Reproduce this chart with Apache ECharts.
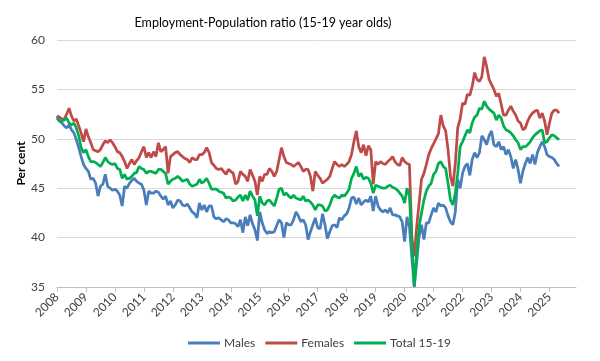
<!DOCTYPE html>
<html>
<head>
<meta charset="utf-8">
<script src="https://cdn.jsdelivr.net/npm/echarts@6/dist/echarts.min.js"></script>
<style>
html,body{margin:0;padding:0;background:#fff;}
#chart{width:600px;height:361px;}
</style>
</head>
<body>
<div id="chart"></div>
<script>
// Monthly categories Jan 2008 .. Dec 2025 (axis extent); data runs to May 2025
var startYear = 2008, endYear = 2025;
var months = [];
for (var y = startYear; y <= endYear; y++) {
  for (var m = 1; m <= 12; m++) {
    months.push(y + '-' + (m < 10 ? '0' + m : m));
  }
}

var males = [
52.3,51.8,51.6,51.3,51.1,51.4,50.9,50.6,49.9,49.1,48.2,47.4,
47.0,46.7,45.9,46.0,45.5,44.2,45.2,45.4,46.4,45.2,45.0,44.8,
44.9,44.7,44.3,43.2,45.2,45.0,45.5,45.8,46.0,45.7,45.5,45.4,
44.8,43.3,44.7,44.5,44.5,44.7,44.6,44.2,43.9,44.2,43.3,43.7,
43.0,43.3,43.8,43.7,43.3,43.2,43.4,43.0,42.6,42.4,42.0,43.5,
42.8,43.3,42.6,43.2,43.2,42.1,41.9,42.0,41.8,41.6,41.9,41.8,
41.5,41.5,41.4,41.1,41.8,40.5,42.1,41.2,42.3,41.4,40.8,39.7,
42.6,41.5,40.8,40.4,40.6,40.5,40.6,41.2,41.8,41.5,40.0,41.5,
41.3,41.3,41.8,42.6,42.2,41.6,41.8,41.3,39.8,40.6,41.3,42.0,
41.0,40.9,42.4,41.3,39.9,40.6,41.2,41.3,41.0,42.0,41.8,42.2,
42.4,43.0,44.0,44.1,43.4,44.0,43.3,43.6,43.8,43.6,44.2,42.7,
44.2,43.2,42.8,42.6,42.8,42.5,43.0,42.3,42.3,42.2,42.1,41.6,
39.6,42.1,41.1,38.0,35.0,37.5,40.1,41.3,39.8,41.5,41.5,42.3,
43.0,42.6,43.5,43.2,43.3,43.0,42.2,41.6,41.3,42.6,45.9,45.0,
46.5,47.2,47.5,46.3,47.9,48.6,48.1,48.6,50.3,49.9,49.4,50.3,
50.8,49.4,49.2,49.7,48.9,49.2,48.4,48.9,48.2,47.0,47.9,46.9,
45.5,46.7,47.5,48.1,47.5,48.4,47.4,48.6,49.2,49.7,49.2,48.4,
48.2,48.1,47.9,47.5,47.2
];

var females = [
52.3,52.2,52.0,52.0,52.5,53.1,52.3,51.8,52.0,51.3,50.6,49.7,
51.0,50.2,49.6,48.9,48.8,48.7,48.9,49.4,49.8,49.6,49.9,49.6,
49.2,48.7,48.6,48.2,47.7,47.0,47.5,47.9,47.4,47.8,48.1,48.7,
49.2,48.1,48.6,48.1,48.7,48.2,49.6,48.7,48.9,49.2,46.5,48.2,
48.4,48.6,48.7,48.4,48.2,48.0,47.9,47.6,48.1,47.9,47.9,48.4,
48.4,48.6,49.1,48.6,47.6,47.3,47.0,46.9,47.0,46.7,46.4,46.9,
46.7,46.5,45.4,45.7,46.7,46.4,46.2,45.7,46.9,46.3,45.7,44.3,
46.2,45.7,46.4,46.4,47.0,46.7,46.2,46.7,47.9,49.1,48.2,47.6,
47.5,47.4,47.2,47.4,47.6,47.2,46.7,46.9,46.9,46.2,44.7,46.7,
46.3,46.0,45.5,45.7,45.9,46.2,47.0,47.7,47.4,47.2,47.4,47.2,
47.4,47.7,48.4,49.7,50.8,49.2,48.6,49.4,48.3,49.3,48.9,45.4,
47.7,47.4,47.7,47.5,47.4,47.7,47.9,48.2,47.7,47.4,47.3,48.1,
47.7,47.5,47.4,40.0,38.1,41.1,43.5,45.9,46.5,47.4,48.4,49.0,
49.5,50.0,50.5,52.4,51.3,50.8,48.9,46.2,45.2,47.5,51.1,52.0,
53.6,53.5,54.5,54.4,55.3,56.7,56.0,55.8,56.3,58.3,57.3,56.0,
55.5,55.0,54.3,54.6,53.5,52.4,52.4,52.9,53.3,52.8,52.4,51.8,
51.6,50.9,51.1,51.8,52.3,52.6,52.8,52.9,52.1,52.6,51.8,50.4,
51.6,52.6,52.9,52.9,52.6
];

var total = [
52.1,51.8,51.8,51.9,52.1,51.6,51.4,51.6,51.1,50.3,49.1,48.6,
48.9,48.2,47.7,47.7,47.6,47.4,47.2,47.6,48.1,47.7,47.5,47.4,
47.5,47.0,46.9,46.0,46.4,45.9,46.0,46.2,46.5,46.6,47.2,47.0,
46.9,46.5,46.7,46.7,46.6,46.5,46.9,46.9,46.7,46.5,45.4,45.7,
45.9,46.0,46.2,46.0,45.7,45.8,45.9,45.4,45.2,45.3,45.4,45.9,
45.5,45.7,46.0,45.5,44.9,44.9,44.9,44.7,44.6,44.5,44.0,44.1,
44.0,43.7,43.8,44.1,44.3,43.7,44.3,43.8,44.7,44.2,43.8,42.2,
44.2,43.5,43.3,43.7,43.8,43.5,43.2,44.0,44.9,45.0,44.3,44.5,
44.2,44.0,44.3,44.0,43.9,43.8,44.2,43.7,43.8,43.6,43.3,42.8,
43.3,43.3,43.2,42.7,42.8,43.3,44.0,44.3,44.1,44.0,44.3,44.2,
44.5,44.9,46.0,46.5,47.2,46.2,46.5,45.9,46.1,46.0,45.5,44.5,
45.3,45.2,45.1,45.0,45.0,45.2,45.3,45.1,45.0,44.8,44.5,44.2,
43.5,45.0,44.2,39.5,35.1,38.4,41.1,42.5,43.8,44.7,45.2,45.5,
46.4,46.7,47.5,47.7,47.2,47.0,45.5,43.8,43.3,44.5,46.5,49.2,
49.7,50.3,50.9,50.6,51.6,52.2,52.4,53.1,53.0,53.8,53.3,53.0,
52.8,52.6,51.9,52.4,52.1,51.3,50.9,50.8,50.6,50.3,49.9,49.6,
48.9,49.2,49.2,49.4,49.7,50.1,50.4,50.6,50.8,50.9,49.6,49.7,
50.1,50.4,50.3,50.1,49.9
];

var seriesNames = ['Males', 'Females', 'Total 15-19'];
var seriesColors = ['#4A7EBB', '#BE4B48', '#00B050'];
var seriesData = [males, females, total];

var FONT = 'Lato, "Liberation Sans", sans-serif';
var chart = echarts.init(document.getElementById('chart'), null, {renderer: 'canvas'});

chart.setOption({
  animation: false,
  backgroundColor: '#ffffff',
  title: {
    text: 'Employment-Population ratio (15-19 year olds)',
    left: 258, top: 11, textAlign: 'center',
    textStyle: {fontFamily: FONT, fontSize: 12.5, fontWeight: 'normal', color: '#000'}
  },
  legend: {
    bottom: 7, left: 183,
    icon: 'rect',
    itemWidth: 32, itemHeight: 3, itemGap: 10,
    textStyle: {fontFamily: FONT, fontSize: 12, color: '#404040', padding: [0, 0, 0, -1]},
    data: seriesNames
  },
  grid: {left: 57, right: 24, top: 40, bottom: 74, containLabel: false},
  xAxis: {
    type: 'category',
    data: months,
    boundaryGap: false,
    axisLine: {lineStyle: {color: '#bfbfbf', width: 1}},
    axisTick: {interval: 11, length: 5, lineStyle: {color: '#bfbfbf'}},
    axisLabel: {
      interval: 11, rotate: 45, margin: 8,
      fontFamily: FONT, fontSize: 12, color: '#404040',
      formatter: function (v) { return v.slice(0, 4); }
    },
    splitLine: {show: false}
  },
  yAxis: {
    type: 'value',
    min: 35, max: 60, interval: 5,
    name: 'Per cent',
    nameLocation: 'middle', nameGap: 30, nameRotate: 90,
    nameMoveOverlap: false,
    nameTextStyle: {fontFamily: FONT, fontSize: 12, fontWeight: 'bold', color: '#000'},
    axisLine: {show: false},
    axisTick: {show: false},
    axisLabel: {fontFamily: FONT, fontSize: 12, color: '#404040', margin: 12},
    splitLine: {lineStyle: {color: '#d9d9d9', width: 1}}
  },
  series: seriesNames.map(function (n, k) {
    return {
      name: n, type: 'line', data: seriesData[k],
      symbol: 'none', smooth: false,
      lineStyle: {color: seriesColors[k], width: 2.75},
      itemStyle: {color: seriesColors[k]}
    };
  })
});
</script>
</body>
</html>
